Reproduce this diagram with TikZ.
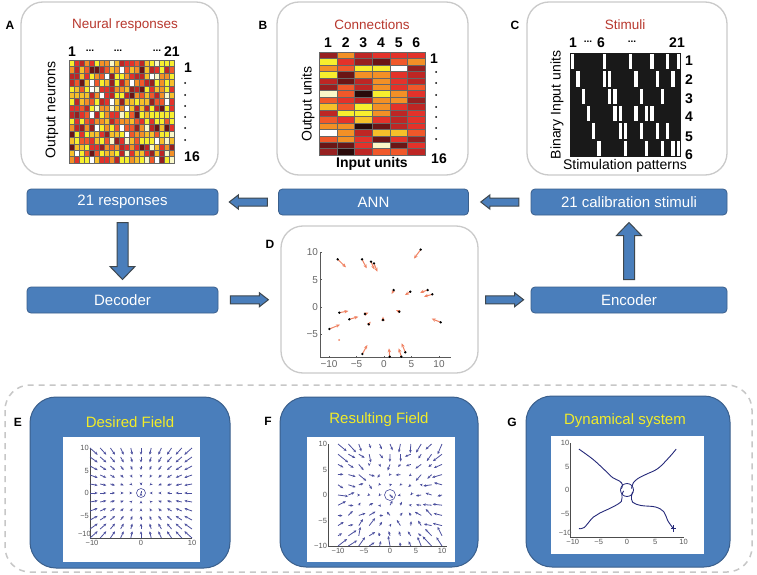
\documentclass[tikz,border=0pt]{standalone}
\usepackage{fontspec}
\setmainfont{Liberation Sans}
\usetikzlibrary{arrows.meta,calc}
\definecolor{boxblue}{HTML}{4A7EBB}
\definecolor{boxedge}{HTML}{3A5F8C}
\definecolor{arredge}{HTML}{3E474E}
\definecolor{titlered}{HTML}{B8382E}
\definecolor{titleyellow}{HTML}{F2EC28}
\definecolor{panelgray}{HTML}{CACACA}
\definecolor{quiv}{HTML}{4B4F9E}
\definecolor{traj}{HTML}{262A7A}
\definecolor{dorange}{HTML}{F08262}
\definecolor{h0}{HTML}{2A0A0A}
\definecolor{h1}{HTML}{6B1515}
\definecolor{h2}{HTML}{962020}
\definecolor{h3}{HTML}{BE2624}
\definecolor{h4}{HTML}{E3322A}
\definecolor{h5}{HTML}{F0582A}
\definecolor{h6}{HTML}{F39026}
\definecolor{h7}{HTML}{F6BF2A}
\definecolor{h8}{HTML}{F7EE2E}
\definecolor{h9}{HTML}{FAF8C8}
\definecolor{h10}{HTML}{FFFFFF}
\newcommand\fsz[1]{\fontsize{#1}{#1}\selectfont}
\newcommand\hotname[1]{\ifcase#1 h0\or h1\or h2\or h3\or h4\or h5\or h6\or h7\or h8\or h9\or h10\fi}
\newcommand\hotA[1]{\ifcase#1 h1\or h2\or h3\or h3\or h4\or h4\or h4\or h5\or h5\or h6\or h6\or h6\or h7\or h7\or h7\or h8\or h8\or h8\or h9\or h10\fi}
\tikzset{
  panel/.style={draw=panelgray,line width=1.3pt,rounded corners=22pt,fill=white,inner sep=0pt},
  bluebox/.style={draw=boxedge,fill=boxblue,line width=0.8pt,rounded corners=4pt,text=white,font=\fsz{15},inner sep=0pt,minimum height=26pt},
  barr/.style={draw=arredge,fill=boxblue,line width=1pt,line join=miter},
  letter/.style={font=\bfseries\fsz{12},inner sep=0pt},
  redtitle/.style={text=titlered,font=\fsz{13.5},inner sep=0pt},
  ytitle/.style={text=titleyellow,font=\fsz{15},inner sep=0pt},
  lab/.style={font=\bfseries\fsz{14},inner sep=0pt},
  dots/.style={font=\bfseries\fsz{10},inner sep=0pt},
  axlab/.style={font=\fsz{14},inner sep=0pt},
  bigpanel/.style={draw=boxedge,fill=boxblue,line width=1pt,rounded corners=26pt},
  tck/.style={font=\fsz{7.5},text=black!65,inner sep=1pt},
  dtck/.style={font=\fsz{10},text=black!60,inner sep=1pt},
  qv/.style={quiv,line width=0.8pt,-{Stealth[length=3pt,width=2.6pt]}},
  darr/.style={dorange,line width=1pt,-{Stealth[length=4pt,width=3.4pt]}},
}
% left-pointing block arrows, rotated as needed
\newcommand\hblock[2]{\begin{scope}[shift={#1},rotate=#2]
  \filldraw[barr] (19,-4) -- (-10,-4) -- (-10,-7) -- (-19,0) -- (-10,7) -- (-10,4) -- (19,4) -- cycle;
\end{scope}}
\newcommand\vblock[2]{\begin{scope}[shift={#1},rotate=#2]
  \filldraw[barr] (28.5,-5.5) -- (-15.5,-5.5) -- (-15.5,-12.5) -- (-28.5,0) -- (-15.5,12.5) -- (-15.5,5.5) -- (28.5,5.5) -- cycle;
\end{scope}}
\begin{document}
\begin{tikzpicture}[x=1pt,y=-1pt]
\useasboundingbox (0,0) rectangle (757,575);
\fill[white] (0,0) rectangle (757,575);

% ---------- top panels ----------
\node[panel,minimum width=197pt,minimum height=173pt] (pA) at (119.5,88.5) {};
\node[panel,minimum width=191pt,minimum height=173pt] (pB) at (372.5,88.5) {};
\node[panel,minimum width=200pt,minimum height=173pt] (pC) at (627,88.5) {};
\node[letter] (lA) at (10,25) {A};
\node[letter] (lB) at (263,25) {B};
\node[letter] (lC) at (515,25) {C};
\node[redtitle] (tA) at (125,25) {Neural responses};
\node[redtitle] (tB) at (372,25) {Connections};
\node[redtitle] (tC) at (625,25) {Stimuli};

% heatmap A
\pgfmathsetseed{17}
\foreach \i in {0,...,20}{
  \foreach \j in {0,...,15}{
    \pgfmathrandominteger{\rr}{0}{19}
    \edef\cc{\hotA{\rr}}
    \draw[fill=\cc,draw=black!60,line width=0.3pt] (69+5*\i,60+6.4375*\j) rectangle ++(5,6.4375);
  }
}
\node[lab] (ac1) at (72,52) {1};
\node[dots] (ac2) at (90,51) {...};
\node[dots] (ac3) at (118,51) {...};
\node[dots] (ac4) at (157,51) {...};
\node[lab] (ac5) at (172,52) {21};
\node[lab] (ar1) at (188,68) {1};
\node[lab] (ar16) at (192,157) {16};
\foreach \yy in {83,95,106,117,128,140}{\fill (185,\yy) circle (1pt);}
\node[axlab,rotate=90] (ayA) at (52,110) {Output neurons};

% heatmap B
\foreach \row [count=\j from 0] in {{2,6,3,4,4,4},{8,4,2,1,5,6},{6,5,8,8,10,2},{8,1,6,6,4,3},{3,1,3,6,4,3},{2,5,3,6,4,5},{9,5,0,8,6,4},{5,4,3,6,6,2},{7,5,8,6,4,3},{3,8,8,6,3,4},{5,4,7,4,3,4},{6,6,0,1,3,4},{10,6,3,7,7,5},{5,6,4,1,4,2},{1,1,4,9,1,4},{2,0,3,5,5,3}}{
  \foreach \v [count=\i from 0] in \row {
    \edef\cc{\hotname{\v}}
    \draw[fill=\cc,draw=black!60,line width=0.3pt] (319+17.667*\i,52+6.4375*\j) rectangle ++(17.667,6.4375);
  }
}
\foreach \k [count=\i from 0] in {1,...,6}{\node[lab] (bc\k) at (328+17.667*\i,43) {\k};}
\node[lab] (br1) at (434,59) {1};
\node[lab] (br16) at (439,159) {16};
\foreach \yy in {72,83,95,107,117,128,139}{\fill (436,\yy) circle (1pt);}
\node[font=\bfseries\fsz{14},inner sep=0pt] (bx) at (372,164) {Input units};
\node[axlab,rotate=90] (byB) at (308,104) {Output units};

% stimuli C
\fill[black!90] (570,53) rectangle (681,157);
\foreach \r/\cols in {1/{1,7,12,16,19,21},2/{2,7,8,13,17,20},3/{3,8,9,14,18},4/{4,9,10,13,15,16},5/{5,10,11,14,17,19},6/{6,11,15,18,20,21}}{
  \foreach \c in \cols {
    \fill[white] (570+5.286*\c-5.286+1,53+17.333*\r-17.333+1) rectangle ++(3.3,15.3);
  }
}
\node[lab] (cc1) at (573,43) {1};
\node[dots] (cc2) at (588,42) {...};
\node[lab] (cc3) at (601,43) {6};
\node[dots] (cc4) at (632,42) {...};
\node[lab] (cc5) at (677,43) {21};
\foreach \k/\yy in {1/61,2/80,3/99,4/117,5/137,6/155}{\node[lab] (cr\k) at (689,\yy) {\k};}
\node[axlab] (cx) at (625,166) {Stimulation patterns};
\node[axlab,rotate=90] (cy) at (557,105) {Binary Input units};

% ---------- middle row ----------
\node[bluebox,minimum width=191pt] (resp) at (122.5,202) {21 responses};
\node[bluebox,minimum width=190pt] (ann) at (373.5,202) {ANN};
\node[bluebox,minimum width=196pt] (calib) at (629,202) {21 calibration stimuli};
\node[bluebox,minimum width=191pt] (dec) at (122.5,300) {Decoder};
\node[bluebox,minimum width=196pt] (enc) at (629,300) {Encoder};
\node[panel,minimum width=197pt,minimum height=147pt] (pD) at (379.5,299.5) {};
\node[letter] (lD) at (270,244) {D};

\coordinate (m1) at ($(resp.east)!0.5!(ann.west)$);
\coordinate (m2) at ($(ann.east)!0.5!(calib.west)$);
\coordinate (m3) at ($(resp.south)!0.5!(dec.north)$);
\coordinate (m4) at ($(dec.east)!0.5!(pD.west)$);
\coordinate (m5) at ($(pD.east)!0.5!(enc.west)$);
\coordinate (m6) at ($(enc.north)!0.5!(calib.south)$);
\hblock{(m1)}{0}
\hblock{(m2)}{0}
\vblock{(m3)}{90}
\hblock{(m4)}{180}
\hblock{(m5)}{180}
\vblock{(m6)}{-90}

% plot D
\begin{scope}[shift={(384pt,-307pt)},x=5.5pt,y=5.47pt]
  \draw[black!65,line width=1.2pt] (-11.6,10.1) -- (-11.6,-9.3) -- (12.2,-9.3);
  \foreach \t in {-10,-5,0,5,10}{
    \draw[black!65,line width=0.6pt] (\t,-9.3) -- (\t,-8.9);
    \node[dtck,anchor=north] (dx\t) at (\t,-9.5) {\ifnum\t<0 −\the\numexpr-\t\relax\else\t\fi};
  }
  \foreach \t in {-5,0,5,10}{
    \draw[black!65,line width=0.6pt] (-11.6,\t) -- (-11.2,\t);
    \node[dtck,anchor=east] (dy\t) at (-11.8,\t) {\ifnum\t<0 −\the\numexpr-\t\relax\else\t\fi};
  }
  \foreach \a/\b/\c/\d in {-8.42/8.72/-6.91/7.25, -4.0/8.72/-3.15/7.07, -2.36/8.28/-1.76/6.89, -1.82/7.98/-1.21/6.46, 6.67/10.5/5.45/8.84, 1.76/3.1/1.39/2.38, 4.79/2.8/3.82/2.19, 7.94/3.1/6.55/2.62, 8.79/2.32/7.27/1.89, -8.12/-1.04/-6.48/-0.73, -6.3/-2.25/-4.67/-1.77, -9.94/-4.02/-8.0/-3.23, -3.45/-1.28/-2.85/-1.04, -2.79/-3.17/-2.42/-2.68, -0.18/-2.38/-0.18/-1.77, 2.79/-0.85/2.18/-0.55, 10.3/-2.8/8.67/-2.13, -3.94/-8.59/-3.03/-6.95, 1.03/-9.08/0.91/-7.56, 3.15/-9.08/2.67/-7.56, 3.88/-8.29/3.21/-6.64}{
    \draw[darr] (\a,\b) -- (\c,\d);
    \fill[black] (\a,\b) circle (1.3pt);
  }
  \fill[dorange] (-8.18,-6.03) circle (1pt);
\end{scope}

% ---------- bottom ----------
\draw[draw=black!22,line width=1.5pt,dash pattern=on 6pt off 5pt,rounded corners=25pt] (5,385) rectangle (752,572);
\node[bigpanel,minimum width=200pt,minimum height=171pt] (pE) at (130,482.5) {};
\node[bigpanel,minimum width=198pt,minimum height=170pt] (pF) at (379,482) {};
\node[bigpanel,minimum width=204pt,minimum height=171pt] (pG) at (628,481.5) {};
\node[letter] (lE) at (18,422) {E};
\node[letter] (lF) at (268,421) {F};
\node[letter] (lG) at (512,422) {G};
\node[ytitle] (tE) at (130,422) {Desired Field};
\node[ytitle] (tF) at (379,420) {Resulting Field};
\node[ytitle] (tG) at (625,421) {Dynamical system};
\fill[white] (63,437) rectangle (200,562);
\fill[white] (307,437) rectangle (455,562);
\fill[white] (551,436) rectangle (704,554);

% plot E
\begin{scope}[shift={(141pt,-493pt)},x=5.1pt,y=4.5pt]
  \draw[black!70,line width=0.5pt] (-10,10) -- (-10,-10) -- (10,-10);
  \foreach \t/\s in {10/10,5/5,0/0,-5/−5}{\node[tck,anchor=east] (ey\t) at (-10,\t) {\s};}
  \node[tck,anchor=south east] (eym) at (-9.6,-10) {−10};
  \foreach \t/\s in {0/0,10/10}{\node[tck,anchor=north] (ex\t) at (\t,-10.2) {\s};}
  \node[tck,anchor=north] (exm) at (-9.6,-10.2) {−10};
  \foreach \gx in {-10,-8,...,10}{
    \foreach \gy in {-10,-8,...,10}{
      \draw[qv] (\gx,\gy) -- ++(-0.15*\gx,-0.15*\gy);
    }
  }
  \draw[quiv,line width=0.6pt] (0,0) circle (4.5pt);
  \fill[quiv] (0,0) circle (0.6pt);
\end{scope}

% plot F
\begin{scope}[shift={(390pt,-495pt)},x=5.2pt,y=5.1pt]
  \draw[black!70,line width=0.5pt] (-11.9,10) -- (-11.9,-10) -- (11,-10);
  \foreach \t/\s in {10/10,5/5,0/0,-5/−5,-10/−10}{\node[tck,anchor=east] (fy\t) at (-11.9,\t) {\s};}
  \foreach \t/\s in {-10/−10,-5/−5,0/0,5/5,10/10}{\node[tck,anchor=north] (fx\t) at (\t,-10.3) {\s};}
  \pgfmathsetseed{5}
  \foreach \gx in {-10,-8,...,10}{
    \foreach \gy in {-10,-8,...,10}{
      \pgfmathsetmacro\du{-0.14*\gx+0.7*rand}
      \pgfmathsetmacro\dv{-0.14*\gy+0.7*rand}
      \draw[qv] (\gx,\gy) -- ++(\du,\dv);
    }
  }
  \draw[quiv,line width=0.6pt] (0,0) circle (5.5pt);
  \fill[quiv] (0,0) circle (0.6pt);
\end{scope}

% plot G
\begin{scope}[shift={(627pt,-490pt)},x=5.65pt,y=4.7pt]
  \draw[black!70,line width=0.5pt] (-10,10) -- (-10,-10) -- (10,-10);
  \foreach \t/\s in {10/10,5/5,0/0,-5/−5}{\node[tck,anchor=east] (gy\t) at (-10,\t) {\s};}
  \node[tck,anchor=south east] (gym) at (-9.6,-10) {−10};
  \foreach \t/\s in {-5/−5,0/0,5/5,10/10}{\node[tck,anchor=north] (gx\t) at (\t,-10.2) {\s};}
  \node[tck,anchor=north] (gxm) at (-9.6,-10.2) {−10};
  \draw[traj,line width=0.9pt] plot[smooth,tension=0.6] coordinates {(-8.5,8.7) (-6,6.5) (-4,4.3) (-2.5,2.6) (-1.3,1.9) (-0.8,1.1) (-1.0,0.3)};
  \draw[traj,line width=0.9pt] plot[smooth,tension=0.6] coordinates {(8.7,8.7) (7.5,7) (5.5,4.6) (3.5,3.4) (2,2.5) (1.1,1.5) (0.8,0.3)};
  \draw[traj,line width=0.9pt] plot[smooth,tension=0.6] coordinates {(-8.5,-8.2) (-7.6,-8) (-6,-5.8) (-4.8,-4.9) (-2.5,-3.6) (-1,-2.4) (-0.9,-1.0) (-0.6,-0.2)};
  \draw[traj,line width=0.9pt] plot[smooth,tension=0.6] coordinates {(8.2,-8.2) (7.2,-6.5) (6.5,-4.6) (5,-3.6) (2.5,-3.3) (1,-2.6) (0.8,-1.3) (1,-0.4)};
  \draw[traj,line width=0.8pt] (0,0) circle (6.5pt);
  \draw[traj,line width=0.6pt] (7.8,-8.2) -- (8.6,-8.2) (8.2,-7.5) -- (8.2,-8.9);
\end{scope}
\end{tikzpicture}
\end{document}
